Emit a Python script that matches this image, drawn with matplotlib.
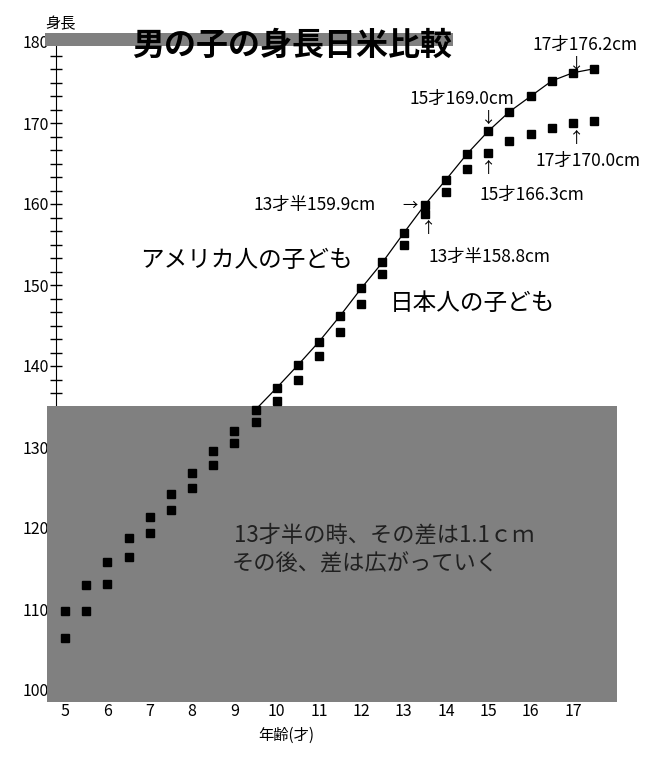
import matplotlib
matplotlib.use("Agg")
import matplotlib.pyplot as plt
from matplotlib.patches import Rectangle
from matplotlib.ticker import MultipleLocator

plt.rcParams['font.family'] = ['Noto Sans CJK JP', 'DejaVu Sans']

# ages (half-year steps)
ages = [5, 5.5, 6, 6.5, 7, 7.5, 8, 8.5, 9, 9.5, 10, 10.5, 11, 11.5, 12,
        12.5, 13, 13.5, 14, 14.5, 15, 15.5, 16, 16.5, 17, 17.5]
# American boys (cm)
height_us = [109.8, 113.0, 115.8, 118.8, 121.4, 124.2, 126.8, 129.5, 132.0, 134.6,
             137.3, 140.1, 143.0, 146.2, 149.6, 152.8, 156.4, 159.9, 163.0, 166.2,
             169.0, 171.4, 173.3, 175.2, 176.2, 176.7]
# Japanese boys (cm)
height_jp = [106.4, 109.8, 113.1, 116.4, 119.4, 122.2, 124.9, 127.8, 130.5, 133.1,
             135.7, 138.3, 141.2, 144.2, 147.7, 151.4, 154.9, 158.8, 161.5, 164.3,
             166.3, 167.8, 168.6, 169.4, 170.0, 170.3]
x_ticks = list(range(5, 18))
y_ticks = list(range(100, 181, 10))

W, H = 654, 763
fig = plt.figure(figsize=(W / 100, H / 100), dpi=100)


def fx(x):
    return x / W


def fy(y):
    return 1 - y / H


# axes placed in pixel terms: y axis at x=56, 180 at y=42, 100 at y=690
ax = fig.add_axes([fx(56), fy(690), (617 - 56) / W, (690 - 42) / H])
ax.set_xlim(4.787, 18.04)
ax.set_ylim(100, 180)
for s in ['top', 'right', 'bottom']:
    ax.spines[s].set_visible(False)
ax.spines['left'].set_zorder(1)
ax.set_axisbelow(True)

ax.set_xticks(x_ticks)
ax.yaxis.set_major_locator(MultipleLocator(10))
ax.yaxis.set_minor_locator(MultipleLocator(10 / 6))
ax.set_yticks(y_ticks)
ax.tick_params(axis='y', which='both', direction='inout', length=8, width=1,
               labelsize=11.5, pad=1)
ax.tick_params(axis='x', length=0, labelsize=11.5, pad=9)

# US line under the shaded box, markers above it
ax.plot(ages, height_us, '-', color='black', lw=0.9, zorder=1)
ax.plot(ages, height_us, 's', color='black', ms=5.5, zorder=4, clip_on=False)
ax.plot(ages, height_jp, 's', color='black', ms=5.5, zorder=4, clip_on=False)

# dithered grey box at lower left
shade = Rectangle((fx(47), fy(702)), (617 - 47) / W, (702 - 406) / H,
                  transform=fig.transFigure, facecolor='#808080',
                  edgecolor='none', zorder=3, clip_on=False)
ax.add_patch(shade)

# grey band behind the title
band = Rectangle((fx(45), fy(46)), (453 - 45) / W, (46 - 33) / H,
                 transform=fig.transFigure, facecolor='#808080',
                 edgecolor='none', zorder=5)
fig.add_artist(band)

fig.text(fx(292), fy(46), '男の子の身長日米比較', fontsize=23, fontweight='bold',
         ha='center', va='center', zorder=6)
fig.text(fx(61), fy(24), '身長', fontsize=11, ha='center', va='center')
fig.text(fx(286), fy(735), '年齢(才)', fontsize=11, ha='center', va='center')

notes = [
    (585, 45, '17才176.2cm'), (462, 99, '15才169.0cm'),
    (588, 161, '17才170.0cm'), (532, 195, '15才166.3cm'),
    (315, 205, '13才半159.9cm'), (489, 257, '13才半158.8cm'),
]
for x, y, t in notes:
    fig.text(fx(x), fy(y), t, fontsize=12.5, ha='center', va='center')

arrows = [(577, 64, '↓'), (489, 118, '↓'), (577, 139, '↑'),
          (489, 169, '↑'), (410, 205, '→'), (429, 229, '↑')]
for x, y, t in arrows:
    fig.text(fx(x), fy(y), t, fontsize=11, ha='center', va='center')

fig.text(fx(246), fy(260), 'アメリカ人の子ども', fontsize=17, ha='center', va='center')
fig.text(fx(473), fy(303), '日本人の子ども', fontsize=17, ha='center', va='center')
fig.text(fx(384), fy(535), '13才半の時、その差は1.1ｃｍ', fontsize=16,
         ha='center', va='center', color='#202020', zorder=6)
fig.text(fx(365), fy(564), 'その後、差は広がっていく', fontsize=16,
         ha='center', va='center', color='#202020', zorder=6)

fig.savefig('out.png', dpi=100, facecolor='white')
